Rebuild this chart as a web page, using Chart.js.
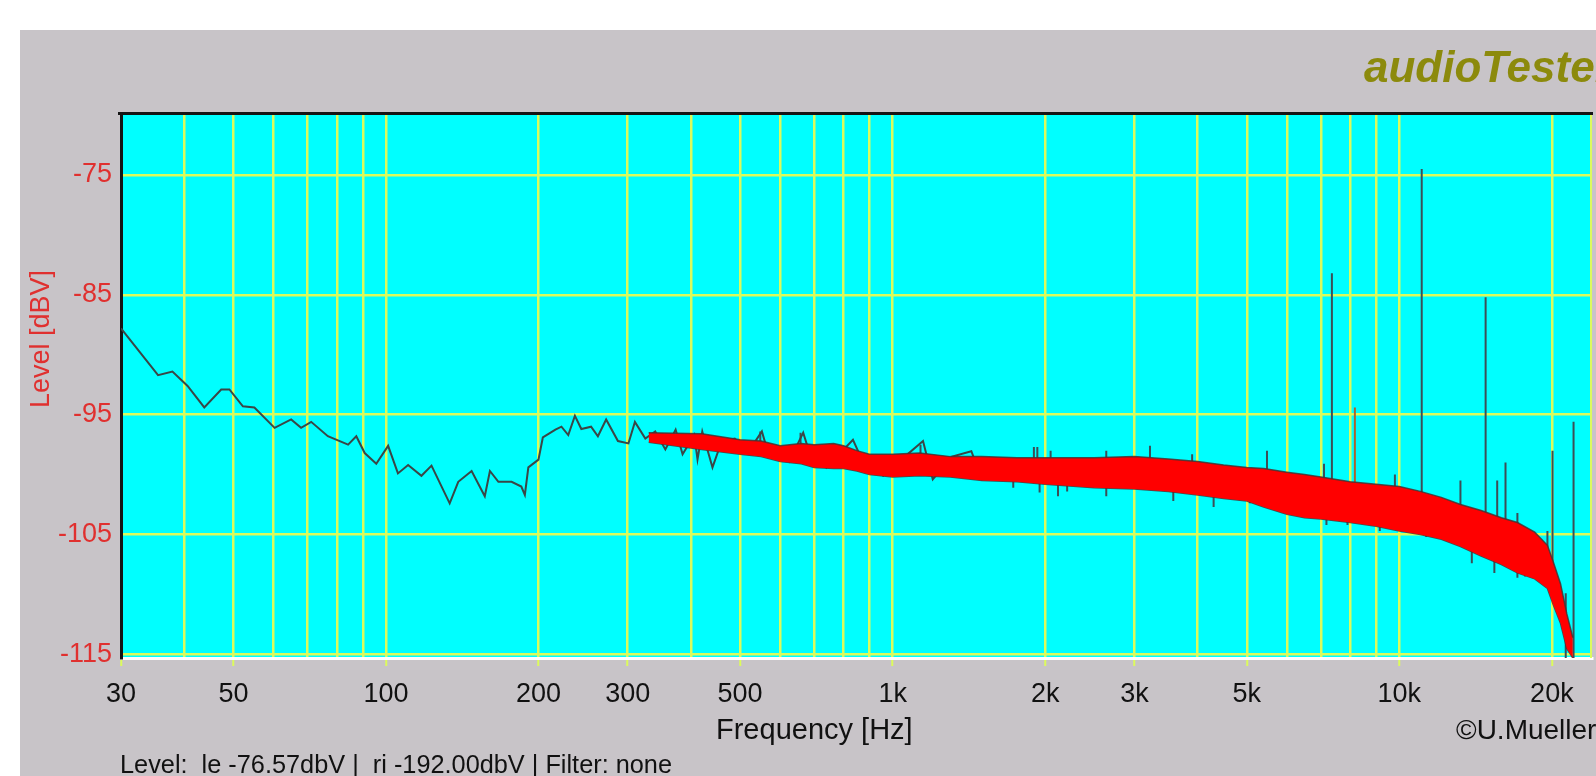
<!DOCTYPE html>
<html>
<head>
<meta charset="utf-8">
<script src="https://cdn.jsdelivr.net/npm/chart.js@4.4.1/dist/chart.umd.min.js"></script>
<style>
html,body{margin:0;padding:0;background:#ffffff;overflow:hidden}
#wrap{width:1596px;height:776px}
</style>
</head>
<body>
<div id="wrap"><canvas id="c" width="1596" height="776"></canvas></div>
<script>
// ---- data ----
const traceFreq = [30, 35.5, 37.9, 40.6, 43.8, 47.3, 49.1, 52.2, 55.0, 60.3, 65.0, 68.0, 71.2, 76.8, 84.2, 87.4, 90.8, 95.7, 101, 105.6, 110.6, 117.5, 123, 133.6, 138.9, 147.6, 156.7, 160.4, 166.7, 177, 185, 188, 191, 200, 204, 216, 222, 229, 236, 243, 254, 262, 272, 287, 301, 310, 325, 340, 356, 373, 385, 406, 412, 421, 441, 460, 488, 517, 552, 568, 606, 625, 666, 692, 714, 740, 835, 875, 915, 958, 1040, 1148, 1200, 1310, 1430, 1500, 1640];
const traceLevel = [-87.8, -91.7, -91.4, -92.6, -94.4, -92.9, -92.9, -94.3, -94.4, -96.1, -95.4, -96.1, -95.6, -96.8, -97.5, -96.8, -98.2, -99.1, -97.6, -99.9, -99.2, -100.1, -99.25, -102.4, -100.6, -99.7, -101.8, -99.7, -100.6, -100.6, -101.0, -101.7, -99.4, -98.75, -96.9, -96.25, -96.0, -96.7, -95.1, -96.2, -96.0, -96.8, -95.4, -97.2, -97.4, -95.6, -97.0, -96.4, -97.9, -96.25, -98.3, -96.7, -98.75, -96.4, -99.4, -97.2, -97.0, -98.2, -96.4, -98.2, -97.9, -98.9, -96.5, -98.75, -98.05, -99.4, -97.1, -99.0, -98.75, -100.1, -98.75, -97.2, -100.4, -98.5, -98.05, -100.4, -99.6];

const bandFreq  = [330, 420, 500, 550, 600, 660, 700, 765, 800, 850, 900, 1000, 1130, 1300, 1500, 1760, 2000, 2500, 3000, 3500, 4000, 4500, 5000, 5400, 6000, 6500, 7000, 8000, 9000, 10000, 11000, 12100, 13200, 14500, 15900, 17100, 18500, 19600, 20100, 20800, 21400, 22000];
const bandUpper = [-96.5, -96.6, -97.1, -97.2, -97.6, -97.4, -97.5, -97.4, -97.6, -98.0, -98.3, -98.3, -98.2, -98.5, -98.5, -98.6, -98.6, -98.6, -98.5, -98.7, -98.9, -99.2, -99.4, -99.5, -99.8, -100.0, -100.2, -100.6, -100.8, -101.0, -101.4, -101.9, -102.5, -103.0, -103.6, -104.0, -104.8, -105.9, -107.2, -109.1, -111.6, -113.6];
const bandLower = [-97.3, -97.9, -98.3, -98.5, -98.9, -99.1, -99.4, -99.5, -99.5, -99.7, -100.0, -100.2, -100.1, -100.2, -100.5, -100.6, -100.8, -101.1, -101.2, -101.4, -101.7, -102.0, -102.2, -102.7, -103.3, -103.6, -103.7, -104.0, -104.3, -104.7, -105.0, -105.4, -106.0, -106.8, -107.5, -108.2, -108.7, -109.5, -110.8, -112.4, -114.5, -115.3];

const spikeFreq = [548, 658, 1135, 1730, 1900, 1930, 1950, 2050, 2120, 2210, 2640, 3220, 3580, 3900, 4300, 5070, 5480, 5930, 7100, 7180, 7360, 7900, 9150, 9800, 11070, 11300, 13200, 13900, 14800, 15400, 15600, 16200, 17100, 17700, 19600, 20060, 21300, 22070];
const spikeTop  = [-96.4, -96.5, -97.5, -99.5, -97.7, -97.7, -99.5, -98.0, -99.6, -99.8, -98.0, -97.6, -100.0, -98.3, -100.2, -100.6, -98.0, -101.5, -99.1, -101.8, -83.2, -102.0, -102.5, -100.0, -74.5, -103.0, -100.5, -104.8, -85.2, -105.5, -100.5, -99.0, -103.2, -106.0, -104.7, -98.0, -109.9, -95.6];
const spikeBase = [-97.8, -98.2, -99.2, -101.1, -99.5, -99.5, -101.5, -99.6, -101.8, -101.4, -101.8, -100.0, -102.2, -100.2, -102.7, -102.4, -100.8, -103.0, -102.0, -104.2, -102.0, -104.2, -104.7, -102.5, -103.0, -105.2, -104.0, -107.4, -105.0, -108.2, -105.0, -105.5, -108.6, -108.5, -108.0, -108.5, -115.3, -115.3];

const harmonicFreq = [8170];
const harmonicTop  = [-94.4];
const harmonicBase = [-102.0];

const gridFreqs = [30, 40, 50, 60, 70, 80, 90, 100, 200, 300, 400, 500, 600, 700, 800, 900, 1000, 2000, 3000, 4000, 5000, 6000, 7000, 8000, 9000, 10000, 20000];
const labeledFreqs = [30, 50, 100, 200, 300, 500, 1000, 2000, 3000, 5000, 10000, 20000];
const freqLabels = ['30', '50', '100', '200', '300', '500', '1k', '2k', '3k', '5k', '10k', '20k'];
const levelTicks = [-115, -105, -95, -85, -75];

const brandText = 'audioTester';
const yTitleText = 'Level [dBV]';
const xTitleText = 'Frequency [Hz]';
const creditText = '\u00A9U.Mueller';
const statusText = 'Level:  le -76.57dbV |  ri -192.00dbV | Filter: none';

// ---- helpers ----
const FONT = '"Liberation Sans", Arial, Helvetica, sans-serif';
const GRID_YELLOW = '#dcfb5c';
const toXY = (xs, ys) => xs.map((x, i) => ({x: x, y: ys[i]}));
const spikeSegments = (fs, tops, bases) => {
  const out = [];
  fs.forEach((f, i) => {
    out.push({x: f, y: bases[i]});
    out.push({x: f, y: tops[i]});
    out.push({x: f, y: null});
  });
  return out;
};

const decor = {
  id: 'decor',
  beforeDraw(chart) {
    const {ctx, chartArea: a} = chart;
    ctx.save();
    ctx.fillStyle = '#ffffff';
    ctx.fillRect(0, 0, chart.width, chart.height);
    ctx.fillStyle = '#c8c4c8';
    ctx.fillRect(20, 30, chart.width - 20, chart.height - 30);
    ctx.fillStyle = '#00ffff';
    ctx.fillRect(a.left, a.top, a.right - a.left, a.bottom - a.top);
    ctx.restore();
  },
  afterDraw(chart) {
    const {ctx, chartArea: a} = chart;
    ctx.save();
    // frame
    ctx.fillStyle = '#141414';
    ctx.fillRect(a.left - 3, a.top - 3, a.right - a.left + 4, 3);
    ctx.fillStyle = GRID_YELLOW;
    ctx.fillRect(a.right - 2, a.top, 2, a.bottom - a.top);
    // brand
    ctx.fillStyle = '#8c8a0c';
    ctx.font = 'italic bold 44px ' + FONT;
    ctx.textAlign = 'left';
    ctx.textBaseline = 'alphabetic';
    ctx.fillText(brandText, 1364, 82);
    // y title
    ctx.save();
    ctx.translate(42, 339);
    ctx.rotate(-Math.PI / 2);
    ctx.fillStyle = '#e0302f';
    ctx.font = '27px ' + FONT;
    ctx.textAlign = 'center';
    ctx.textBaseline = 'middle';
    ctx.fillText(yTitleText, 0, 0);
    ctx.restore();
    // x title, credit, status line
    ctx.fillStyle = '#111111';
    ctx.font = '29px ' + FONT;
    ctx.textBaseline = 'middle';
    ctx.textAlign = 'left';
    ctx.fillText(xTitleText, 716, 731);
    ctx.font = '28px ' + FONT;
    ctx.fillText(creditText, 1456, 731);
    ctx.font = '26px ' + FONT;
    ctx.fillText(statusText, 120, 766, 552);
    ctx.restore();
  }
};

new Chart(document.getElementById('c'), {
  type: 'line',
  data: {
    datasets: [
      {
        label: 'noise upper',
        data: toXY(bandFreq, bandUpper),
        borderColor: 'rgba(70,50,50,0.85)',
        borderWidth: 1.5,
        backgroundColor: '#ff0000',
        fill: '+1',
        pointRadius: 0,
        order: 1
      },
      {
        label: 'noise lower',
        data: toXY(bandFreq, bandLower),
        borderColor: 'rgba(70,50,50,0.85)',
        borderWidth: 1.5,
        fill: false,
        pointRadius: 0,
        order: 1
      },
      {
        label: 'trace',
        data: toXY(traceFreq, traceLevel),
        borderColor: '#3a4646',
        borderWidth: 2,
        fill: false,
        pointRadius: 0,
        order: 2
      },
      {
        label: 'spikes',
        data: spikeSegments(spikeFreq, spikeTop, spikeBase),
        borderColor: '#3c4e56',
        borderWidth: 2,
        fill: false,
        spanGaps: false,
        pointRadius: 0,
        order: 3
      },
      {
        label: 'harmonic',
        data: spikeSegments(harmonicFreq, harmonicTop, harmonicBase),
        borderColor: '#b0602a',
        borderWidth: 2,
        fill: false,
        spanGaps: false,
        pointRadius: 0,
        order: 3
      }
    ]
  },
  options: {
    responsive: false,
    animation: false,
    devicePixelRatio: 1,
    layout: {autoPadding: false, padding: {left: 21, top: 115, right: 4, bottom: 58}},
    plugins: {legend: {display: false}, tooltip: {enabled: false}, title: {display: false}},
    elements: {point: {radius: 0}, line: {tension: 0}},
    scales: {
      x: {
        type: 'logarithmic',
        position: 'bottom',
        min: 30,
        max: 24000,
        afterBuildTicks: s => { s.ticks = gridFreqs.map(v => ({value: v})); },
        afterFit: s => { s.height = 60; },
        grid: {
          color: GRID_YELLOW,
          lineWidth: 2.5,
          drawTicks: true,
          tickLength: 8,
          tickWidth: 2,
          tickColor: c => (c.tick && labeledFreqs.indexOf(c.tick.value) >= 0) ? GRID_YELLOW : 'rgba(0,0,0,0)'
        },
        border: {display: true, color: '#ffffff', width: 3},
        ticks: {
          autoSkip: false,
          maxRotation: 0,
          minRotation: 0,
          padding: 12,
          color: '#111111',
          font: {family: FONT, size: 27},
          callback: v => { const i = labeledFreqs.indexOf(v); return i >= 0 ? freqLabels[i] : ''; }
        }
      },
      y: {
        type: 'linear',
        position: 'left',
        min: -115.3,
        max: -70,
        afterBuildTicks: s => { s.ticks = levelTicks.map(v => ({value: v})); },
        afterFit: s => { s.width = 100; },
        grid: {color: GRID_YELLOW, lineWidth: 2.5, drawTicks: false},
        border: {display: true, color: '#141414', width: 3},
        ticks: {
          padding: 9,
          color: '#e0302f',
          font: {family: FONT, size: 27},
          callback: v => String(v)
        }
      }
    }
  },
  plugins: [decor]
});
</script>
</body>
</html>
